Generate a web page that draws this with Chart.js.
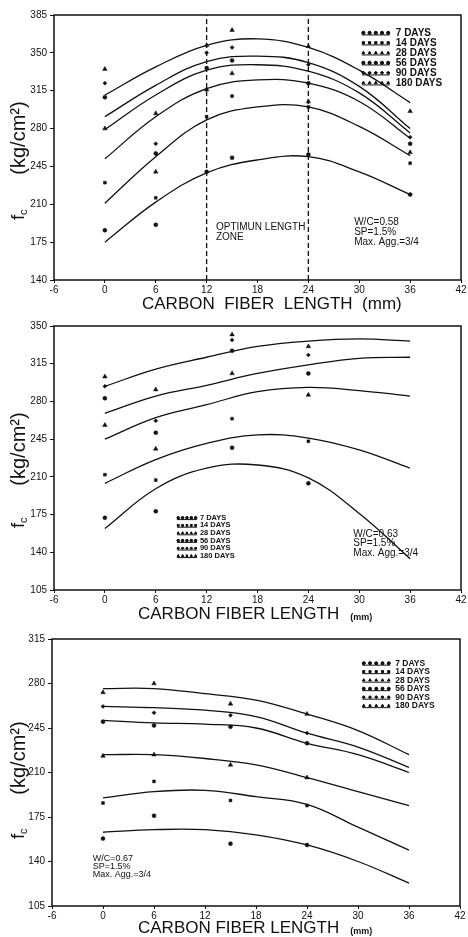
<!DOCTYPE html>
<html>
<head>
<meta charset="utf-8">
<script src="https://cdn.jsdelivr.net/npm/chart.js@4.4.1/dist/chart.umd.min.js"></script>
<style>
  html, body { margin: 0; padding: 0; background: #fff; }
  canvas { display: block; }
</style>
</head>
<body>
<canvas id="c1" width="468" height="312"></canvas>
<canvas id="c2" width="468" height="310"></canvas>
<canvas id="c3" width="468" height="315"></canvas>
<script>
// ---- data ----
const ages = ['7 DAYS', '14 DAYS', '28 DAYS', '56 DAYS', '90 DAYS', '180 DAYS'];
const xTicks = [-6, 0, 6, 12, 18, 24, 30, 36, 42];
const fitX = [0, 6, 12, 18, 24, 30, 36];

// W/C = 0.58
const p1TestX = [0, 6, 12, 15, 24, 36];
const p1Pts7 = [186, 191, 240, 253, 256, 219];
const p1Pts14 = [230, 216, 291, 310, 300, 248];
const p1Pts28 = [280, 240, 316, 331, 305, 258];
const p1Pts56 = [309, 257, 336, 343, 322, 266];
const p1Pts90 = [322, 266, 350, 355, 339, 272];
const p1Pts180 = [335, 294, 357, 371, 356, 296];
const p1Fit7 = [175, 212, 239, 251, 254, 240, 219];
const p1Fit14 = [211, 254, 288, 300, 300, 282, 255];
const p1Fit28 = [252, 291, 317, 325, 322, 305, 271];
const p1Fit56 = [279, 311, 334, 339, 333, 313, 276];
const p1Fit90 = [291, 320, 342, 347, 341, 319, 280];
const p1Fit180 = [311, 337, 357, 363, 355, 334, 304];
const p1Zone = [12, 24];
const p1YTicks = [140, 385];

// W/C = 0.63
const p2TestX = [0, 6, 15, 24];
const p2Pts7 = [172, 178, 237, 204];
const p2Pts14 = [212, 207, 264, 243];
const p2Pts28 = [258, 236, 306, 286];
const p2Pts56 = [283, 251, 327, 306];
const p2Pts90 = [294, 262, 337, 323];
const p2Pts180 = [303, 291, 342, 331];
const p2Fit7 = [162, 199, 218, 221, 209, 176, 134];
const p2Fit14 = [204, 226, 241, 249, 246, 235, 218];
const p2Fit28 = [245, 265, 277, 289, 293, 290, 285];
const p2Fit56 = [269, 285, 295, 306, 314, 320, 321];
const p2Fit180 = [294, 310, 321, 331, 336, 338, 336];
const p2YTicks = [105, 350];

// W/C = 0.67
const p3TestX = [0, 6, 15, 24];
const p3Pts7 = [158, 176, 154, 153];
const p3Pts14 = [186, 203, 188, 184];
const p3Pts28 = [223, 224, 216, 206];
const p3Pts56 = [250, 247, 246, 233];
const p3Pts90 = [262, 257, 255, 241];
const p3Pts180 = [273, 280, 264, 256];
const p3Fit7 = [163, 165, 165, 161, 153, 140, 123];
const p3Fit14 = [190, 195, 196, 191, 185, 167, 149];
const p3Fit28 = [224, 224, 221, 216, 206, 195, 184];
const p3Fit56 = [251, 249, 248, 245, 233, 224, 210];
const p3Fit90 = [262, 261, 259, 254, 241, 230, 214];
const p3Fit180 = [276, 276, 272, 267, 256, 243, 224];
const p3YTicks = [105, 315];

// ---- drawing ----
const INK = '#111';
const FONT = '"Liberation Sans", Arial, sans-serif';
const markStyles = ['circle', 'rect', 'triangle', 'circle', 'rectRot', 'triangle'];

function pairs(xs, ys) {
  return xs.map((x, i) => ({ x: x, y: ys[i] }));
}

function pointSets(xs, groups) {
  return groups.map((ys, i) => ({
    label: ages[i],
    data: pairs(xs, ys),
    showLine: false,
    pointStyle: markStyles[i],
    pointRadius: markStyles[i] === 'triangle' ? 2.6 : 2,
    backgroundColor: INK,
    borderColor: INK,
    borderWidth: 0.5
  }));
}

function fitSets(groups) {
  return groups.map(ys => ({
    label: 'fit',
    data: pairs(fitX, ys),
    showLine: true,
    tension: 0.4,
    pointRadius: 0,
    borderColor: INK,
    borderWidth: 1.3,
    fill: false
  }));
}

const figPlugin = {
  id: 'fig',
  afterDraw(chart, args, o) {
    const { ctx, chartArea: a, scales } = chart;
    const sx = scales.x, sy = scales.y;
    ctx.save();
    ctx.strokeStyle = INK;
    ctx.lineWidth = 1.5;
    ctx.strokeRect(a.left, a.top, a.right - a.left, a.bottom - a.top);
    ctx.fillStyle = INK;

    // y title: f_c (kg/cm2)
    ctx.save();
    ctx.translate(19, o.yTitleY);
    ctx.rotate(-Math.PI / 2);
    ctx.textBaseline = 'middle';
    ctx.textAlign = 'center';
    ctx.font = '20px ' + FONT;
    ctx.fillText('(kg/cm\u00B2)', 0, 0);
    ctx.restore();
    ctx.save();
    ctx.translate(19, o.fcY);
    ctx.rotate(-Math.PI / 2);
    ctx.textBaseline = 'middle';
    ctx.textAlign = 'left';
    ctx.font = '19px ' + FONT;
    ctx.fillText('f', -6, 0);
    ctx.font = '11px ' + FONT;
    ctx.fillText('c', -1, 5);
    ctx.restore();

    // x title
    ctx.textBaseline = 'middle';
    ctx.textAlign = 'left';
    ctx.font = '17px ' + FONT;
    ctx.fillText(o.xTitle, o.xTitleX, o.xTitleY);
    if (o.mmSmall) {
      const w = ctx.measureText(o.xTitle).width;
      ctx.font = 'bold 9px ' + FONT;
      ctx.fillText('(mm)', o.xTitleX + w + 11, o.xTitleY + 4);
    }

    // notes
    o.notes.forEach(n => {
      ctx.font = n.font + ' ' + FONT;
      const px = sx.getPixelForValue(n.x), py = sy.getPixelForValue(n.y);
      n.lines.forEach((t, i) => ctx.fillText(t, px, py + i * n.gap));
    });

    // legend: underline with five markers, then label
    const L = o.legend;
    const lx = sx.getPixelForValue(L.x), ly = sy.getPixelForValue(L.y);
    ctx.font = L.font + ' ' + FONT;
    ages.forEach((lab, i) => {
      const yy = ly + i * L.gap;
      ctx.lineWidth = 1;
      ctx.beginPath();
      ctx.moveTo(lx, yy + L.r + 0.5);
      ctx.lineTo(lx + L.w, yy + L.r + 0.5);
      ctx.stroke();
      for (let k = 0; k < 5; k++) {
        Chart.helpers.drawPoint(ctx, { pointStyle: markStyles[i], radius: L.r, rotation: 0, borderWidth: 0.5 },
          lx + L.r + k * (L.w - 2 * L.r) / 4, yy);
        ctx.fill();
      }
      ctx.fillText(lab, lx + L.w + L.tx, yy);
    });
    ctx.restore();
  }
};

function makeChart(id, datasets, yRange, pad, fig) {
  return new Chart(document.getElementById(id), {
    type: 'scatter',
    data: { datasets: datasets },
    options: {
      responsive: false,
      animation: false,
      layout: { padding: { top: pad.top, right: pad.right, bottom: 0, left: 0 } },
      plugins: { legend: { display: false }, tooltip: { enabled: false }, fig: fig },
      scales: {
        x: {
          type: 'linear', min: xTicks[0], max: xTicks[xTicks.length - 1],
          afterBuildTicks: s => { s.ticks = xTicks.map(v => ({ value: v })); },
          afterFit: s => { s.height = pad.xh; },
          border: { display: false },
          grid: { drawOnChartArea: false, tickLength: 3, color: INK, lineWidth: 1 },
          ticks: { color: INK, padding: 1, font: { family: FONT, size: 10 } }
        },
        y: {
          type: 'linear', min: yRange[0], max: yRange[1],
          ticks: { stepSize: 35, color: INK, padding: 3, font: { family: FONT, size: 10 } },
          afterFit: s => { s.width = pad.left; },
          border: { display: false },
          grid: { drawOnChartArea: false, tickLength: 4, color: INK, lineWidth: 1 }
        }
      }
    },
    plugins: [figPlugin]
  });
}

// panel 1
const zoneSets = p1Zone.map(v => ({
  label: 'zone',
  data: [{ x: v, y: p1YTicks[0] }, { x: v, y: p1YTicks[1] }],
  showLine: true, pointRadius: 0, borderColor: INK, borderWidth: 1.3, borderDash: [5, 3]
}));
makeChart('c1',
  [...zoneSets,
   ...fitSets([p1Fit7, p1Fit14, p1Fit28, p1Fit56, p1Fit90, p1Fit180]),
   ...pointSets(p1TestX, [p1Pts7, p1Pts14, p1Pts28, p1Pts56, p1Pts90, p1Pts180])],
  p1YTicks, { top: 15, right: 7, left: 54, xh: 32 },
  {
    yTitleY: 138, fcY: 214, xTitle: 'CARBON  FIBER  LENGTH  (mm)', xTitleX: 142, xTitleY: 304, mmSmall: false,
    notes: [
      { x: 13.1, y: 189, lines: ['OPTIMUN LENGTH', 'ZONE'], gap: 10, font: '10px' },
      { x: 29.4, y: 193, lines: ['W/C=0.58', 'SP=1.5%', 'Max. Agg.=3/4'], gap: 10, font: '10px' }
    ],
    legend: { x: 30.3, y: 368.5, gap: 10, w: 28, r: 1.6, tx: 6, font: 'bold 10px' }
  });

// panel 2
makeChart('c2',
  [...fitSets([p2Fit7, p2Fit14, p2Fit28, p2Fit56, p2Fit180]),
   ...pointSets(p2TestX, [p2Pts7, p2Pts14, p2Pts28, p2Pts56, p2Pts90, p2Pts180])],
  p2YTicks, { top: 14, right: 7, left: 54, xh: 32 },
  {
    yTitleY: 137, fcY: 210, xTitle: 'CARBON FIBER LENGTH', xTitleX: 138, xTitleY: 302, mmSmall: true,
    notes: [
      { x: 29.3, y: 157, lines: ['W/C=0.63', 'SP=1.5%', 'Max. Agg.=3/4'], gap: 9.5, font: '10px' }
    ],
    legend: { x: 8.5, y: 172, gap: 7.6, w: 20, r: 1.3, tx: 3, font: 'bold 7.5px' }
  });

// panel 3
makeChart('c3',
  [...fitSets([p3Fit7, p3Fit14, p3Fit28, p3Fit56, p3Fit90, p3Fit180]),
   ...pointSets(p3TestX, [p3Pts7, p3Pts14, p3Pts28, p3Pts56, p3Pts90, p3Pts180])],
  p3YTicks, { top: 17, right: 8, left: 52, xh: 31 },
  {
    yTitleY: 136, fcY: 211, xTitle: 'CARBON FIBER LENGTH', xTitleX: 138, xTitleY: 306, mmSmall: true,
    notes: [
      { x: -1.2, y: 142, lines: ['W/C=0.67', 'SP=1.5%', 'Max. Agg.=3/4'], gap: 8, font: '9px' }
    ],
    legend: { x: 30.5, y: 296, gap: 8.5, w: 28, r: 1.5, tx: 5, font: 'bold 8.5px' }
  });
</script>
</body>
</html>
